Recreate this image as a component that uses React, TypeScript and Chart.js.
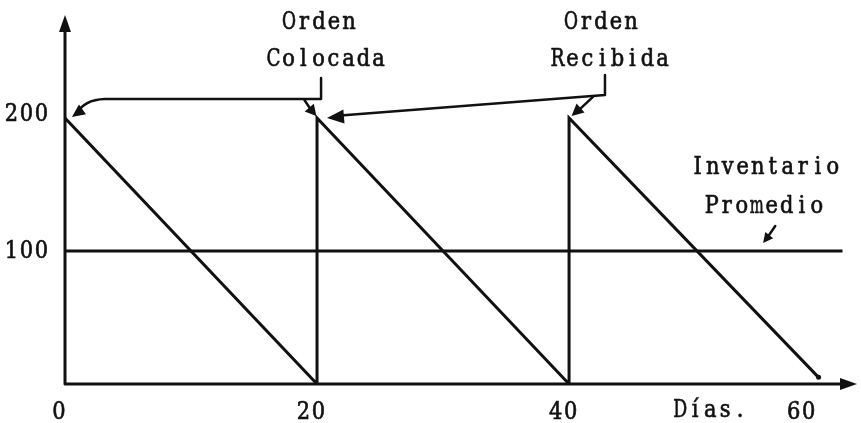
import React, { useEffect, useRef } from "react";
import { Chart, registerables } from "chart.js";

Chart.register(...registerables);

// ---- data ----
const days = [0, 20, 20, 40, 40, 59.8];
const inventory = [200, 0, 200, 0, 200, 5];
const averageDays = [0, 61.7];
const averageInventory = [100, 100];
const xTicks = [0, 20, 40, 60];
const xTickLabels = ["0", "20", "40", "60"];
const yTicks = [100, 200];
const yTickLabels = ["100", "200"];
const xTitle = "Días.";
const placedText = ["Orden", "Colocada"];
const receivedText = ["Orden", "Recibida"];
const averageText = ["Inventario", "Promedio"];

const X_MAX = 62.85;
const Y_MAX = 277.4;
const FONT = "21px 'DejaVu Serif', 'Liberation Serif', serif";
const CELL = 15;
const INK = "#111";

// typewriter-like text: each glyph centred in a fixed-width cell
function drawText(ctx: CanvasRenderingContext2D, text: string, x: number, y: number, align: "center" | "right" = "center") {
  ctx.save();
  ctx.font = FONT;
  ctx.fillStyle = INK;
  ctx.strokeStyle = INK;
  ctx.lineWidth = 0.6;
  ctx.textAlign = "center";
  ctx.textBaseline = "alphabetic";
  const total = text.length * CELL;
  const left = align === "center" ? x - total / 2 : x - total;
  for (let i = 0; i < text.length; i++) {
    const ch = text[i];
    const w = ctx.measureText(ch).width;
    const sx = w > CELL - 1 ? (CELL - 1) / w : 1;
    ctx.save();
    ctx.translate(left + i * CELL + CELL / 2, y + 8);
    ctx.scale(sx, 1.15);
    ctx.fillText(ch, 0, 0);
    ctx.strokeText(ch, 0, 0);
    ctx.restore();
  }
  ctx.restore();
}

function arrowHead(ctx: CanvasRenderingContext2D, fx: number, fy: number, tx: number, ty: number, len = 14, half = 6) {
  const a = Math.atan2(ty - fy, tx - fx);
  ctx.beginPath();
  ctx.moveTo(tx, ty);
  ctx.lineTo(tx - len * Math.cos(a) + half * Math.sin(a), ty - len * Math.sin(a) - half * Math.cos(a));
  ctx.lineTo(tx - len * Math.cos(a) - half * Math.sin(a), ty - len * Math.sin(a) + half * Math.cos(a));
  ctx.closePath();
  ctx.fillStyle = INK;
  ctx.fill();
}

const decorPlugin = {
  id: "decor",
  beforeDatasetsDraw(chart: any) {
    const ctx: CanvasRenderingContext2D = chart.ctx;
    const xs = chart.scales.x;
    const ys = chart.scales.y;
    const X = (v: number) => xs.getPixelForValue(v);
    const Y = (v: number) => ys.getPixelForValue(v);
    ctx.save();
    ctx.strokeStyle = INK;
    ctx.lineWidth = 3;
    ctx.lineCap = "round";
    ctx.lineJoin = "round";
    ctx.beginPath();
    ctx.moveTo(X(0), Y(Y_MAX) + 14);
    ctx.lineTo(X(0), Y(0));
    ctx.lineTo(X(X_MAX) - 14, Y(0));
    ctx.stroke();
    arrowHead(ctx, X(0), Y(0), X(0), Y(Y_MAX), 17, 6);
    arrowHead(ctx, X(0), Y(0), X(X_MAX), Y(0), 17, 6);
    ctx.restore();
  },
  afterDatasetsDraw(chart: any) {
    const ctx: CanvasRenderingContext2D = chart.ctx;
    const xs = chart.scales.x;
    const ys = chart.scales.y;
    const X = (v: number) => xs.getPixelForValue(v);
    const Y = (v: number) => ys.getPixelForValue(v);
    ctx.save();
    // tick labels
    xTicks.forEach((t, i) => drawText(ctx, xTickLabels[i], X(t) - (t === 60 ? 20 : 6), Y(0) + 27));
    drawText(ctx, xTitle, X(51.2), Y(0) + 25);
    yTicks.forEach((t, i) => drawText(ctx, yTickLabels[i], X(0) - 16, Y(t) - (t === 200 ? 5 : 1), "right"));

    ctx.strokeStyle = INK;
    ctx.lineWidth = 2.5;
    ctx.lineCap = "round";
    ctx.lineJoin = "round";

    // "Orden Colocada"
    drawText(ctx, placedText[0], X(20.16), Y(272.9));
    drawText(ctx, placedText[1], X(20.71), Y(245.1));
    ctx.beginPath();
    ctx.moveTo(X(20.32), Y(230.1));
    ctx.lineTo(X(20.32), Y(214.3));
    ctx.lineTo(X(3.16), Y(214.3));
    ctx.quadraticCurveTo(X(1.5), Y(213.8), X(0.9), Y(203));
    ctx.stroke();
    arrowHead(ctx, X(1.6), Y(208), X(0.55), Y(200.8), 13, 6);
    ctx.beginPath();
    ctx.moveTo(X(19.0), Y(213.5));
    ctx.lineTo(X(19.6), Y(205));
    ctx.stroke();
    arrowHead(ctx, X(19.0), Y(212), X(19.95), Y(201.5), 11, 6);

    // "Orden Recibida"
    drawText(ctx, receivedText[0], X(42.53), Y(272.9));
    drawText(ctx, receivedText[1], X(43.24), Y(245.1));
    ctx.beginPath();
    ctx.moveTo(X(42.85), Y(232.3));
    ctx.lineTo(X(42.85), Y(217.3));
    ctx.lineTo(X(21.6), Y(201.6));
    ctx.stroke();
    arrowHead(ctx, X(42.85), Y(217.3), X(20.79), Y(200.0), 17, 7);
    ctx.beginPath();
    ctx.moveTo(X(41.9), Y(215.8));
    ctx.lineTo(X(40.9), Y(207));
    ctx.stroke();
    arrowHead(ctx, X(41.9), Y(215.8), X(40.2), Y(201.5), 12, 6);

    // "Inventario Promedio"
    drawText(ctx, averageText[0], X(55.57), Y(163.9));
    drawText(ctx, averageText[1], X(55.49), Y(134.6));
    ctx.beginPath();
    ctx.moveTo(X(56.36), Y(118.8));
    ctx.lineTo(X(55.8), Y(111));
    ctx.stroke();
    arrowHead(ctx, X(56.3), Y(117), X(55.4), Y(106), 10, 5);
    ctx.restore();
  },
};

export default function App() {
  const ref = useRef<HTMLCanvasElement | null>(null);
  useEffect(() => {
    if (!ref.current) return;
    const chart = new Chart(ref.current, {
      type: "line",
      data: {
        datasets: [
          {
            data: days.map((d, i) => ({ x: d, y: inventory[i] })),
            borderColor: INK,
            borderWidth: 3,
            tension: 0,
            pointRadius: days.map((_, i) => (i === days.length - 1 ? 2.5 : 0)),
            pointBackgroundColor: INK,
            pointBorderWidth: 0,
          },
          {
            data: averageDays.map((d, i) => ({ x: d, y: averageInventory[i] })),
            borderColor: INK,
            borderWidth: 3,
            pointRadius: 0,
          },
        ],
      },
      options: {
        responsive: false,
        animation: false,
        layout: { padding: { left: 65, right: 1, top: 15, bottom: 39 } },
        plugins: { legend: { display: false }, tooltip: { enabled: false } },
        scales: {
          x: { type: "linear", min: 0, max: X_MAX, display: false },
          y: { type: "linear", min: 0, max: Y_MAX, display: false },
        },
      },
      plugins: [decorPlugin],
    });
    return () => chart.destroy();
  }, []);
  return (
    <div style={{ position: "absolute", left: 0, top: 0, width: 861, height: 423, background: "#fff" }}>
      <canvas ref={ref} width={861} height={423} style={{ display: "block" }} />
    </div>
  );
}
